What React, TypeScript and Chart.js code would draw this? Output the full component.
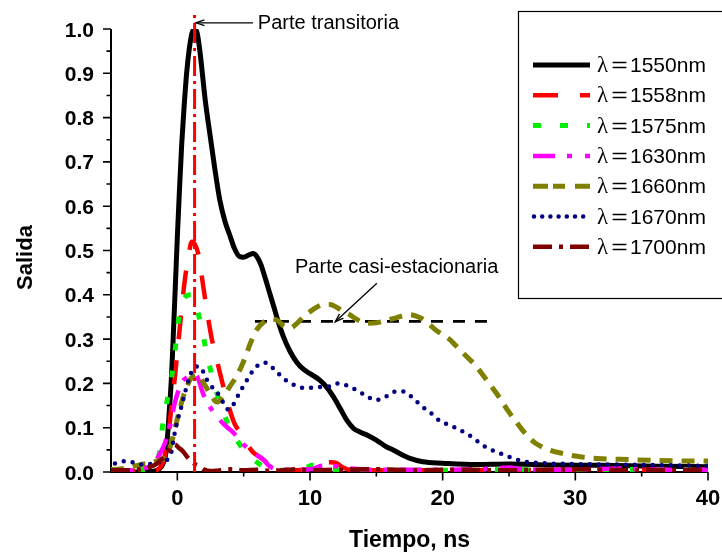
import { useEffect, useRef } from "react";
import { Chart, registerables } from "chart.js";

Chart.register(...registerables);

// ---- axis ranges and ticks ----
const X_MIN = -5;
const X_MAX = 40;
const Y_MIN = 0;
const Y_MAX = 1;
const xMajorTicks = [0, 10, 20, 30, 40];
const xMinorTicks = [5, 15, 25, 35];
const yMajorTicks = [0, 0.1, 0.2, 0.3, 0.4, 0.5, 0.6, 0.7, 0.8, 0.9, 1.0];
const yMinorTicks = [0.05, 0.15, 0.25, 0.35, 0.45, 0.55, 0.65, 0.75, 0.85, 0.95];

// ---- series (time in ns, normalised output) ----
const wavelengths = [1550, 1558, 1575, 1630, 1660, 1670, 1700];

const t1550 = [-5, -3, -2, -1.5, -1.2, -1, -0.83, -0.6, -0.45, -0.33, -0.15, 0, 0.15, 0.33, 0.5, 0.7, 0.9, 1.1, 1.3, 1.5, 1.7, 1.85, 2.1, 2.44, 2.8, 3.2, 3.6, 3.95, 4.3, 4.7, 5.0, 5.4, 5.7, 6.0, 6.3, 6.6, 7.0, 7.3, 7.6, 8.0, 8.5, 9.0, 9.5, 10, 10.76, 11.3, 11.76, 12.3, 12.77, 13.3, 13.8, 14.4, 15, 15.7, 16.3, 17, 17.6, 18.5, 20, 22.5, 25, 28, 32, 36, 40];
const s1550 = [0, 0, 0.001, 0.004, 0.012, 0.025, 0.05, 0.14, 0.21, 0.29, 0.42, 0.53, 0.63, 0.74, 0.82, 0.9, 0.955, 0.99, 1.0, 0.99, 0.95, 0.91, 0.84, 0.766, 0.69, 0.614, 0.565, 0.535, 0.505, 0.486, 0.485, 0.49, 0.493, 0.486, 0.468, 0.44, 0.4, 0.37, 0.34, 0.305, 0.272, 0.248, 0.232, 0.222, 0.207, 0.19, 0.17, 0.142, 0.117, 0.098, 0.09, 0.082, 0.072, 0.058, 0.049, 0.038, 0.03, 0.023, 0.02, 0.017, 0.018, 0.016, 0.015, 0.013, 0.012];

const t1558 = [-5, -3, -2, -1.5, -1.2, -1, -0.7, -0.45, -0.2, 0, 0.3, 0.55, 0.8, 1.1, 1.3, 1.6, 1.9, 2.2, 2.6, 3.0, 3.45, 3.9, 4.3, 4.7, 5.2, 5.7, 6.2, 6.6, 7, 7.5, 8, 9, 10, 10.5, 11, 11.5, 12, 12.5, 13, 15, 20, 25, 30, 35, 40];
const s1558 = [0.003, 0.003, 0.003, 0.005, 0.015, 0.03, 0.08, 0.145, 0.21, 0.27, 0.36, 0.43, 0.48, 0.52, 0.515, 0.49, 0.43, 0.37, 0.3, 0.25, 0.195, 0.145, 0.11, 0.09, 0.065, 0.045, 0.034, 0.025, 0.012, 0.005, 0.004, 0.004, 0.008, 0.018, 0.022, 0.022, 0.02, 0.01, 0.005, 0.004, 0.004, 0.005, 0.004, 0.005, 0.005];

const t1575 = [-5, -3, -2, -1.6, -1.34, -1.09, -0.71, -0.33, -0.08, 0.17, 0.6, 1.06, 1.4, 1.76, 2.19, 2.69, 3.32, 3.8, 4.2, 5.0, 5.84, 6.5, 7, 8, 9, 9.7, 10.2, 10.8, 11.5, 15, 20, 25, 30, 35, 40];
const s1575 = [0.005, 0.005, 0.008, 0.02, 0.045, 0.11, 0.17, 0.234, 0.298, 0.358, 0.395, 0.4, 0.375, 0.336, 0.271, 0.209, 0.147, 0.11, 0.087, 0.05, 0.026, 0.012, 0.006, 0.004, 0.005, 0.01, 0.015, 0.012, 0.005, 0.004, 0.004, 0.005, 0.004, 0.006, 0.005];

const t1630 = [-5, -3, -2.3, -1.8, -1.34, -1, -0.58, -0.2, 0.3, 0.8, 1.2, 1.5, 1.94, 2.5, 3.0, 3.5, 4.0, 4.5, 5.0, 5.5, 6.0, 6.4, 7, 7.5, 8, 10, 11, 12, 13, 15, 20, 24, 25, 26, 30, 33, 35, 40];
const s1630 = [0.003, 0.005, 0.01, 0.018, 0.04, 0.06, 0.1, 0.155, 0.2, 0.215, 0.222, 0.215, 0.177, 0.145, 0.125, 0.108, 0.095, 0.08, 0.062, 0.049, 0.038, 0.03, 0.012, 0.006, 0.005, 0.006, 0.014, 0.013, 0.008, 0.005, 0.005, 0.008, 0.01, 0.006, 0.005, 0.008, 0.006, 0.005];

const t1660 = [-5, -4, -3.5, -3, -2.5, -2, -1.5, -1, -0.5, 0, 0.5, 1, 1.5, 2, 2.5, 3, 3.5, 4, 4.5, 5, 5.5, 6, 6.5, 7, 7.5, 8, 8.5, 9, 9.5, 10, 10.5, 11, 11.5, 12, 12.5, 13, 13.5, 14, 14.5, 15, 15.5, 16, 16.5, 17, 17.5, 18, 18.5, 19, 19.5, 20, 20.5, 21, 21.5, 22, 22.5, 23, 23.5, 24, 24.5, 25, 25.5, 26, 26.5, 27, 28, 29, 30, 31, 32, 34, 36, 38, 40];
const s1660 = [0.005, 0.008, 0.012, 0.015, 0.018, 0.02, 0.025, 0.03, 0.06, 0.12, 0.175, 0.21, 0.22, 0.2, 0.175, 0.158, 0.172, 0.195, 0.218, 0.25, 0.29, 0.322, 0.338, 0.345, 0.343, 0.33, 0.325, 0.335, 0.35, 0.362, 0.372, 0.378, 0.378, 0.372, 0.362, 0.355, 0.345, 0.338, 0.336, 0.337, 0.34, 0.344, 0.348, 0.353, 0.355, 0.352, 0.345, 0.333, 0.32, 0.31, 0.3, 0.285, 0.27, 0.255, 0.24, 0.22, 0.2, 0.18, 0.158, 0.135, 0.115, 0.095, 0.078, 0.065, 0.05, 0.042, 0.036, 0.032, 0.03, 0.028, 0.026, 0.025, 0.025];

const t1670 = [-4.7, -4.3, -3.85, -3.1, -2.5, -1.8, -1.1, -0.7, -0.45, -0.25, 0, 0.3, 0.6, 0.85, 1.1, 1.5, 1.8, 2.1, 2.5, 3.0, 3.5, 3.85, 4.3, 4.7, 5.1, 5.5, 6.0, 6.6, 7.3, 8.0, 8.7, 9.4, 10, 10.8, 11.5, 12.1, 12.9, 13.5, 14.3, 14.9, 15.7, 16.3, 17, 17.8, 18.4, 19.2, 19.8, 20.5, 21.2, 22, 22.6, 23.3, 24, 24.7, 25.4, 26.1, 27.5, 30, 35, 40];
const s1670 = [0.019, 0.022, 0.025, 0.02, 0.016, 0.02, 0.023, 0.03, 0.045, 0.08, 0.115, 0.147, 0.182, 0.207, 0.228, 0.238, 0.235, 0.215, 0.196, 0.18, 0.155, 0.141, 0.156, 0.18, 0.2, 0.22, 0.239, 0.247, 0.232, 0.211, 0.198, 0.19, 0.19, 0.192, 0.193, 0.2, 0.194, 0.185, 0.171, 0.162, 0.17, 0.181, 0.182, 0.166, 0.149, 0.131, 0.115, 0.106, 0.096, 0.083, 0.07, 0.055, 0.046, 0.038, 0.03, 0.024, 0.02, 0.018, 0.016, 0.014];

const t1700 = [-5, -4, -3, -2.5, -2, -1.6, -1.2, -0.8, -0.5, -0.2, 0.1, 0.42, 0.8, 1.2, 1.7, 2, 2.5, 3, 4, 5, 6, 7, 8, 9, 10, 12, 15, 18, 20, 25, 30, 35, 40];
const s1700 = [0.004, 0.004, 0.005, 0.008, 0.012, 0.018, 0.028, 0.04, 0.055, 0.062, 0.055, 0.047, 0.032, 0.02, 0.013, 0.006, 0.002, 0.003, 0.006, 0.004, 0.005, 0.003, 0.004, 0.006, 0.004, 0.005, 0.006, 0.004, 0.005, 0.004, 0.006, 0.004, 0.004];

// marker lines: transient peak time and quasi-steady level
const peakTime = [1.3, 1.3];
const peakLevel = [0, 1.033];
const plateauTime = [5.85, 23.45];
const plateauLevel = [0.34, 0.34];

// annotation anchors in data units: [x, y]
const transText = [6.07, 1.0];
const transArrowFrom = [5.7, 1.014];
const transArrowTo = [1.4, 1.014];
const plateauText = [8.87, 0.449];
const plateauArrowFrom = [15.04, 0.426];
const plateauArrowTo = [11.9, 0.339];

const SANS = "'Liberation Sans', Arial, Helvetica, sans-serif";
const SERIF = "'Liberation Serif', 'Times New Roman', serif";

type SeriesStyle = {
  color: string;
  width: number;
  dash: number[];
  cap: CanvasLineCap;
  legendDash: number[];
};

const seriesStyles: SeriesStyle[] = [
  { color: "#000000", width: 5, dash: [], cap: "butt", legendDash: [] },
  { color: "#ff0000", width: 4.5, dash: [24, 21], cap: "butt", legendDash: [25, 22] },
  { color: "#00ee00", width: 5, dash: [7, 20], cap: "butt", legendDash: [8, 19] },
  { color: "#ff00ff", width: 4.5, dash: [22, 11, 5, 12], cap: "butt", legendDash: [22, 12, 5, 13] },
  { color: "#808000", width: 5, dash: [13, 9], cap: "butt", legendDash: [15, 5, 12, 10] },
  { color: "#000080", width: 4.5, dash: [0, 9], cap: "round", legendDash: [0, 8.2] },
  { color: "#800000", width: 4.5, dash: [19, 7, 4, 7], cap: "butt", legendDash: [19, 7, 4, 7] },
];

const seriesData: [number[], number[]][] = [
  [t1550, s1550],
  [t1558, s1558],
  [t1575, s1575],
  [t1630, s1630],
  [t1660, s1660],
  [t1670, s1670],
  [t1700, s1700],
];

function pts(xs: number[], ys: number[]) {
  return xs.map((x, i) => ({ x, y: ys[i] }));
}

function drawArrow(ctx: CanvasRenderingContext2D, x1: number, y1: number, x2: number, y2: number) {
  ctx.beginPath();
  ctx.moveTo(x1, y1);
  ctx.lineTo(x2, y2);
  ctx.stroke();
  const a = Math.atan2(y2 - y1, x2 - x1);
  const L = 9;
  const w = 0.33;
  ctx.beginPath();
  ctx.moveTo(x2 - L * Math.cos(a - w), y2 - L * Math.sin(a - w));
  ctx.lineTo(x2, y2);
  ctx.lineTo(x2 - L * Math.cos(a + w), y2 - L * Math.sin(a + w));
  ctx.stroke();
}

const decorPlugin = {
  id: "decor",
  beforeDatasetsDraw(chart: any) {
    const { ctx } = chart;
    const xs = chart.scales.x;
    const ys = chart.scales.y;
    const left = xs.getPixelForValue(X_MIN);
    const right = xs.getPixelForValue(X_MAX);
    const top = ys.getPixelForValue(Y_MAX);
    const bottom = ys.getPixelForValue(Y_MIN);

    ctx.save();
    ctx.strokeStyle = "#000";
    ctx.lineWidth = 2;
    ctx.beginPath();
    ctx.moveTo(left, top);
    ctx.lineTo(left, bottom);
    ctx.lineTo(right, bottom);
    ctx.stroke();

    ctx.lineWidth = 1.6;
    ctx.beginPath();
    for (const v of yMajorTicks) {
      const py = ys.getPixelForValue(v);
      ctx.moveTo(left - 8, py);
      ctx.lineTo(left, py);
    }
    for (const v of yMinorTicks) {
      const py = ys.getPixelForValue(v);
      ctx.moveTo(left - 4.5, py);
      ctx.lineTo(left, py);
    }
    for (const v of xMajorTicks) {
      const px = xs.getPixelForValue(v);
      ctx.moveTo(px, bottom);
      ctx.lineTo(px, bottom + 8.5);
    }
    for (const v of xMinorTicks) {
      const px = xs.getPixelForValue(v);
      ctx.moveTo(px, bottom);
      ctx.lineTo(px, bottom + 4.5);
    }
    ctx.stroke();

    ctx.fillStyle = "#000";
    ctx.font = `bold 21px ${SANS}`;
    ctx.textAlign = "right";
    ctx.textBaseline = "alphabetic";
    for (const v of yMajorTicks) {
      const py = ys.getPixelForValue(v);
      ctx.fillText(v.toFixed(1), left - 17, py + 7.5);
    }
    ctx.font = `bold 22px ${SANS}`;
    ctx.textAlign = "center";
    for (const v of xMajorTicks) {
      const px = xs.getPixelForValue(v);
      ctx.fillText(String(v), px, bottom + 32.5);
    }

    // axis titles
    ctx.font = `bold 23px ${SANS}`;
    ctx.fillText("Tiempo, ns", (left + right) / 2, bottom + 75);
    ctx.save();
    ctx.translate(32, (top + bottom) / 2 + 7);
    ctx.rotate(-Math.PI / 2);
    ctx.font = `bold 22px ${SANS}`;
    ctx.textAlign = "center";
    ctx.fillText("Salida", 0, 0);
    ctx.restore();
    ctx.restore();
  },
  afterDraw(chart: any) {
    const { ctx } = chart;
    const xs = chart.scales.x;
    const ys = chart.scales.y;
    const P = (p: number[]) => [xs.getPixelForValue(p[0]), ys.getPixelForValue(p[1])];

    ctx.save();
    ctx.fillStyle = "#000";
    ctx.strokeStyle = "#000";

    // annotations
    ctx.font = `20px ${SANS}`;
    ctx.textAlign = "left";
    ctx.textBaseline = "alphabetic";
    const tt = P(transText);
    ctx.fillText("Parte transitoria", tt[0], tt[1]);
    const pt = P(plateauText);
    ctx.fillText("Parte casi-estacionaria", pt[0], pt[1]);
    ctx.lineWidth = 1.3;
    const a1 = P(transArrowFrom);
    const a2 = P(transArrowTo);
    drawArrow(ctx, a1[0], a1[1], a2[0], a2[1]);
    const b1 = P(plateauArrowFrom);
    const b2 = P(plateauArrowTo);
    drawArrow(ctx, b1[0], b1[1], b2[0], b2[1]);

    // legend
    ctx.lineWidth = 1.2;
    ctx.strokeRect(518.5, 11.5, 230, 287);
    seriesStyles.forEach((s, i) => {
      const y = 65 + i * 30.3;
      ctx.save();
      ctx.strokeStyle = s.color;
      ctx.lineWidth = s.width;
      ctx.lineCap = s.cap;
      ctx.setLineDash(s.legendDash);
      ctx.beginPath();
      ctx.moveTo(s.cap === "round" ? 534 : 533, y);
      ctx.lineTo(590, y);
      ctx.stroke();
      ctx.restore();

      const base = y + 7;
      ctx.font = `23px ${SERIF}`;
      ctx.textAlign = "left";
      ctx.fillText("λ", 597, base);
      ctx.save();
      ctx.translate(619.5, base);
      ctx.scale(1.35, 1);
      ctx.font = `21px ${SANS}`;
      ctx.textAlign = "center";
      ctx.fillText("=", 0, 0);
      ctx.restore();
      ctx.font = `21px ${SANS}`;
      ctx.fillText(`${wavelengths[i]}nm`, 630, base);
    });
    ctx.restore();
  },
};

export default function App() {
  const canvasRef = useRef<HTMLCanvasElement | null>(null);

  useEffect(() => {
    if (!canvasRef.current) return;
    const n = seriesStyles.length;
    const datasets: any[] = seriesData.map(([xs, ys], i) => {
      const s = seriesStyles[i];
      return {
        label: `λ=${wavelengths[i]}nm`,
        data: pts(xs, ys),
        borderColor: s.color,
        borderWidth: s.width,
        borderDash: s.dash,
        borderCapStyle: s.cap,
        borderJoinStyle: "round",
        pointRadius: 0,
        fill: false,
        cubicInterpolationMode: "monotone",
        order: n - i + 1,
      };
    });
    datasets.push({
      label: "nivel",
      data: pts(plateauTime, plateauLevel),
      borderColor: "#000",
      borderWidth: 2.6,
      borderDash: [12, 10],
      pointRadius: 0,
      fill: false,
      order: n + 5,
    });
    datasets.push({
      label: "pico",
      data: pts(peakTime, peakLevel),
      borderColor: "#ff0000",
      borderWidth: 3,
      borderDash: [20, 5, 3, 5],
      pointRadius: 0,
      fill: false,
      clip: false,
      order: 0,
    });

    const chart = new Chart(canvasRef.current, {
      type: "line",
      data: { datasets },
      options: {
        responsive: false,
        animation: false,
        devicePixelRatio: 1,
        events: [],
        layout: { padding: { left: 111, right: 14, top: 29, bottom: 82 } },
        plugins: { legend: { display: false }, tooltip: { enabled: false } },
        scales: {
          x: { type: "linear", min: X_MIN, max: X_MAX, display: false },
          y: { type: "linear", min: Y_MIN, max: Y_MAX, display: false },
        },
      },
      plugins: [decorPlugin],
    } as any);

    return () => chart.destroy();
  }, []);

  return (
    <div style={{ position: "absolute", left: 0, top: 0, width: 722, height: 554, background: "#fff" }}>
      <canvas ref={canvasRef} width={722} height={554} style={{ display: "block" }} />
    </div>
  );
}
